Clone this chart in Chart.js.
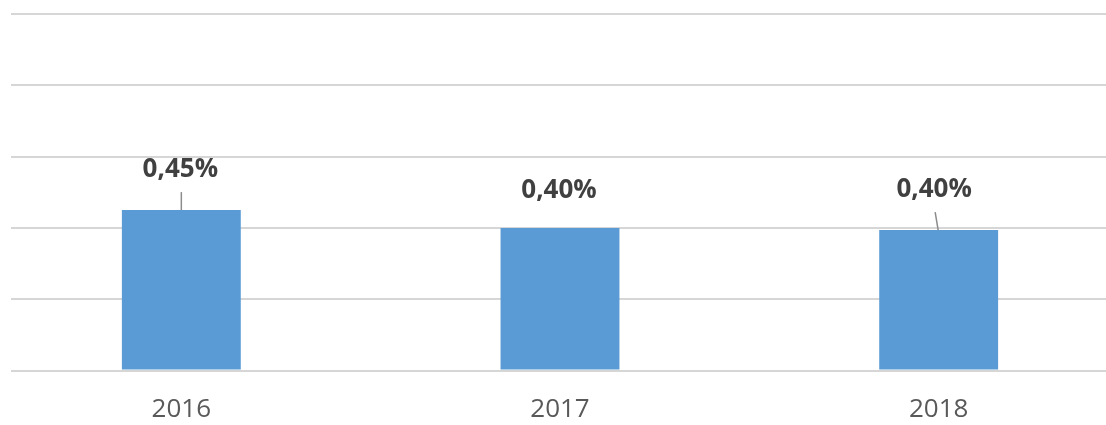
<!DOCTYPE html>
<html>
<head>
<meta charset="utf-8">
<script src="https://cdn.jsdelivr.net/npm/chart.js@4/dist/chart.umd.min.js"></script>
<style>
  html, body { margin: 0; padding: 0; background: #ffffff; overflow: hidden; width: 1106px; height: 425px; }
  #wrap { position: absolute; left: -8px; top: 0; width: 1136px; height: 425px; }
</style>
</head>
<body>
<div id="wrap"><canvas id="c"></canvas></div>
<script>
const categories = ['2016', '2017', '2018'];
const values = [0.45, 0.40, 0.394];
const valueLabels = ['0,45%', '0,40%', '0,40%'];
const yMin = 0;
const yMax = 1.0;
const yStep = 0.2;

const clipPlugin = {
  id: 'clipLeft',
  beforeDraw(chart) {
    const ctx = chart.ctx;
    ctx.save();
    ctx.beginPath();
    ctx.rect(19, 0, chart.width, chart.height);
    ctx.clip();
  },
  afterDraw(chart) {
    chart.ctx.restore();
  }
};

const labelPlugin = {
  id: 'barLabels',
  afterDatasetsDraw(chart, args, opts) {
    const ctx = chart.ctx;
    const meta = chart.getDatasetMeta(0);
    ctx.save();
    ctx.font = opts.font;
    ctx.fillStyle = opts.color;
    ctx.textAlign = 'center';
    ctx.textBaseline = 'middle';
    meta.data.forEach((bar, i) => {
      const o = opts.offsets[i];
      const lx = bar.x + o.dx;
      const ly = bar.y - o.dy;
      ctx.fillText(valueLabels[i], lx, ly);
      if (o.leader) {
        ctx.beginPath();
        ctx.strokeStyle = opts.leaderColor;
        ctx.lineWidth = 1.5;
        ctx.moveTo(bar.x + o.lx0, ly + 22);
        ctx.lineTo(bar.x + o.lx1, bar.y);
        ctx.stroke();
      }
    });
    ctx.restore();
  }
};

new Chart(document.getElementById('c'), {
  type: 'bar',
  data: {
    labels: categories,
    datasets: [{
      data: values,
      backgroundColor: '#5b9bd5',
      borderWidth: 0,
      barPercentage: 0.314,
      categoryPercentage: 1.0
    }]
  },
  options: {
    responsive: true,
    maintainAspectRatio: false,
    animation: false,
    layout: { padding: { top: 14, bottom: 0, left: 0, right: 0 } },
    plugins: {
      legend: { display: false },
      tooltip: { enabled: false },
      barLabels: {
        font: 'bold 26px "Open Sans", sans-serif',
        color: '#404040',
        leaderColor: '#8c8c8c',
        offsets: [
          { dx: -1, dy: 40, leader: true, lx0: 0, lx1: 0 },
          { dx: -1, dy: 37, leader: false },
          { dx: -4.5, dy: 40, leader: true, lx0: -3.5, lx1: -0.5 }
        ]
      }
    },
    scales: {
      x: {
        grid: { display: false, drawTicks: false },
        border: { display: false },
        ticks: {
          color: '#595959',
          font: { family: '"Open Sans", sans-serif', size: 26 },
          padding: 23
        },
        afterFit(scale) { scale.height = 54.5; }
      },
      y: {
        min: yMin,
        max: yMax,
        ticks: { display: false, stepSize: yStep },
        grid: { color: '#d6d6d6', lineWidth: 2, drawTicks: false },
        border: { display: false },
        afterFit(scale) { scale.width = 0; }
      }
    }
  },
  plugins: [clipPlugin, labelPlugin]
});
</script>
</body>
</html>
